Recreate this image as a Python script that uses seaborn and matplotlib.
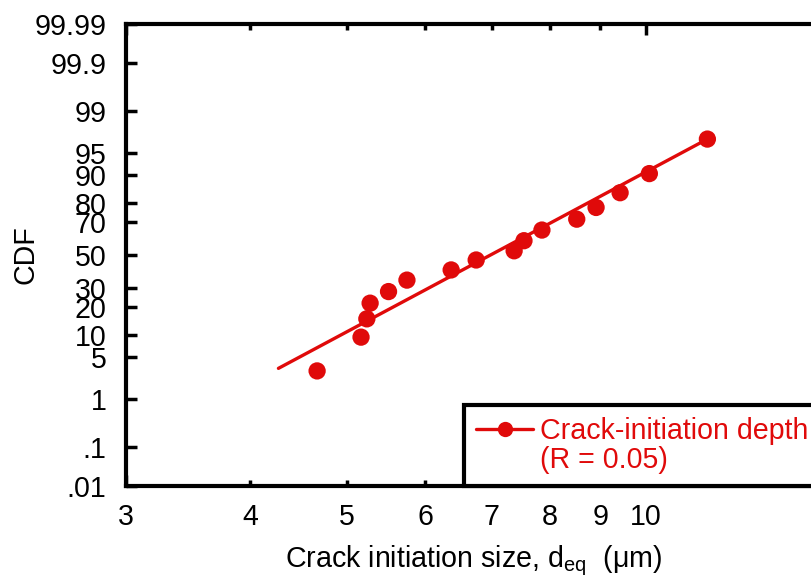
import numpy as np
import pandas as pd
import matplotlib
matplotlib.use("Agg")
import matplotlib.pyplot as plt
from matplotlib.lines import Line2D
from matplotlib.ticker import FixedLocator, FixedFormatter
from statistics import NormalDist
import seaborn as sns

# ---- data ----
crack_size_um = [4.67, 5.17, 5.24, 5.28, 5.51, 5.75, 6.37, 6.75,
                 7.37, 7.54, 7.86, 8.52, 8.91, 9.42, 10.08, 11.53]
cdf_percent = [3.1, 9.3, 15.2, 21.9, 27.8, 34.3, 40.5, 46.8,
               52.7, 59.1, 65.6, 71.8, 77.8, 84.2, 90.5, 96.9]
fit_size_um = [4.27, 11.53]
fit_cdf_percent = [3.4, 96.9]

y_ticks = [0.01, 0.1, 1, 5, 10, 20, 30, 50, 70, 80, 90, 95, 99, 99.9, 99.99]
y_tick_labels = ['.01', '.1', '1', '5', '10', '20', '30', '50', '70', '80',
                 '90', '95', '99', '99.9', '99.99']
x_major_ticks = [3, 10]
x_minor_ticks = [4, 5, 6, 7, 8, 9]

series_label = 'Crack-initiation depth'
series_note = '(R = 0.05)'

RED = '#E00A0A'
FS = 20.6

# ---- style ----
sns.set_theme(style='white')
plt.rcParams['font.family'] = ['Liberation Sans', 'DejaVu Sans']
plt.rcParams['mathtext.default'] = 'regular'

fig = plt.figure(figsize=(8.11, 5.86), dpi=100)
W, H = 811, 586
ax_left, ax_right, ax_top, ax_bottom = 126, 821, 24, 486
ax = fig.add_axes([ax_left / W, 1 - ax_bottom / H,
                   (ax_right - ax_left) / W, (ax_bottom - ax_top) / H])

pts = pd.DataFrame({'size': crack_size_um, 'cdf': cdf_percent})
fit = pd.DataFrame({'size': fit_size_um, 'cdf': fit_cdf_percent})

sns.lineplot(data=fit, x='size', y='cdf', ax=ax, color=RED, linewidth=2.4,
             estimator=None, sort=False, legend=False)
sns.scatterplot(data=pts, x='size', y='cdf', ax=ax, color=RED, s=155,
                edgecolor='none', linewidth=0, legend=False, zorder=3)

# ---- scales ----
_nd = NormalDist()


def _probit(p):
    p = np.clip(np.asarray(p, dtype=float) / 100.0, 1e-9, 1 - 1e-9)
    return np.vectorize(_nd.inv_cdf, otypes=[float])(p) if p.ndim else _nd.inv_cdf(float(p))


def _inv_probit(z):
    z = np.asarray(z, dtype=float)
    return np.vectorize(_nd.cdf, otypes=[float])(z) * 100.0 if z.ndim else _nd.cdf(float(z)) * 100.0


ax.set_xscale('log')
ax.set_yscale('function', functions=(_probit, _inv_probit))
ax.set_xlim(3, 15)
ax.set_ylim(0.01, 99.99)

ax.yaxis.set_major_locator(FixedLocator(y_ticks))
ax.yaxis.set_major_formatter(FixedFormatter(y_tick_labels))
ax.yaxis.set_minor_locator(FixedLocator([]))

ax.xaxis.set_major_locator(FixedLocator(x_major_ticks))
ax.xaxis.set_major_formatter(FixedFormatter([str(v) for v in x_major_ticks]))
ax.xaxis.set_minor_locator(FixedLocator(x_minor_ticks))
ax.xaxis.set_minor_formatter(FixedFormatter([str(v) for v in x_minor_ticks]))

for s in ax.spines.values():
    s.set_linewidth(3.0)
    s.set_color('black')

ax.tick_params(axis='y', which='major', direction='in', length=8, width=2.5,
               left=True, right=False, labelsize=FS, pad=14, colors='black')
ax.tick_params(axis='x', which='major', direction='in', length=8, width=2.5,
               bottom=True, top=True, labelsize=FS, pad=12, colors='black')
ax.tick_params(axis='x', which='minor', direction='in', length=4.5, width=2.5,
               bottom=True, top=True, labelsize=FS, pad=12, colors='black')

ax.set_xlabel('Crack initiation size, d$_{eq}$  (μm)', fontsize=FS, labelpad=9,
              color='black')
ax.set_ylabel('CDF', fontsize=FS, color='black')
ax.yaxis.set_label_coords(-0.124, 0.5)
ax.grid(False)

# ---- legend ----
h1 = Line2D([], [], color=RED, linewidth=2.4, marker='o', markersize=11,
            markeredgewidth=0)
h2 = Line2D([], [], linestyle='none', marker='')
x0 = (464 - ax_left) / (ax_right - ax_left)
leg = ax.legend([h1, h2], [series_label, series_note], loc='lower left',
                bbox_to_anchor=(x0, 0.0, 0.75, 0.2), mode='expand',
                borderaxespad=0, frameon=True, fancybox=False, framealpha=1,
                fontsize=FS, labelcolor=RED, handlelength=2.0,
                handletextpad=0.25, borderpad=0.42, labelspacing=0.05)
leg.get_frame().set_edgecolor('black')
leg.get_frame().set_linewidth(3.0)
leg.set_zorder(5)

fig.savefig('out.png', dpi=100)
